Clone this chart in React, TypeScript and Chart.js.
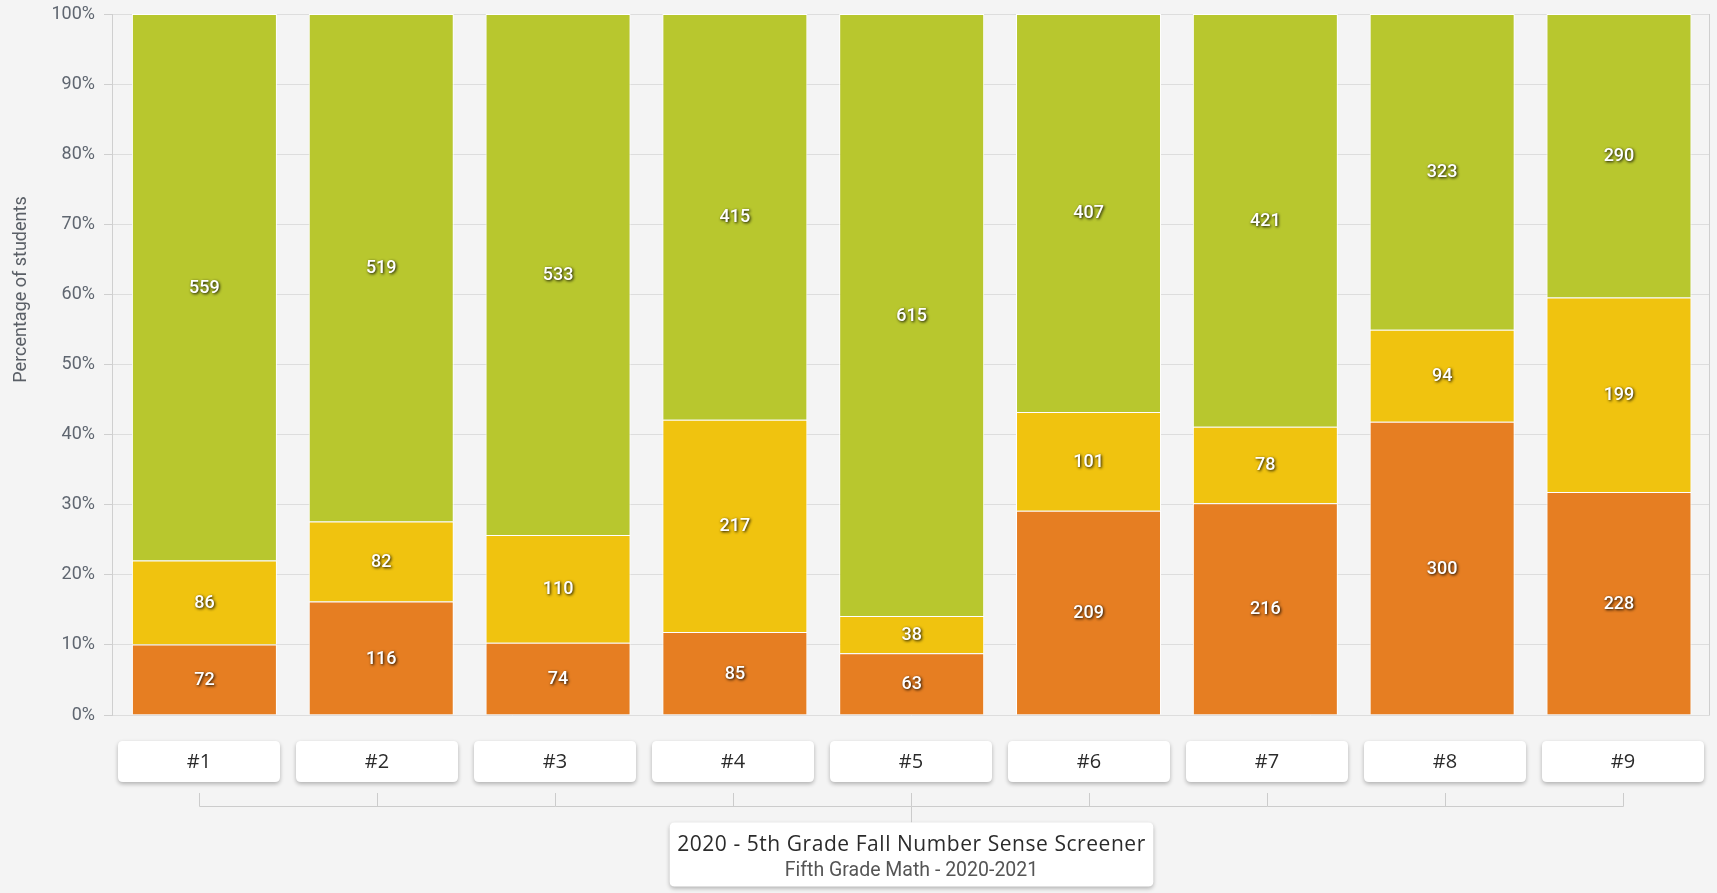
import React, { useEffect, useRef } from "react";
import { Chart, registerables } from "chart.js";

Chart.register(...registerables);

const categories = ["#1", "#2", "#3", "#4", "#5", "#6", "#7", "#8", "#9"];
const orangeCounts = [72, 116, 74, 85, 63, 209, 216, 300, 228];
const yellowCounts = [86, 82, 110, 217, 38, 101, 78, 94, 199];
const greenCounts = [559, 519, 533, 415, 615, 407, 421, 323, 290];
const seriesNames = ["Tier 3", "Tier 2", "Tier 1"];
const seriesColors = ["#E67E22", "#F0C30F", "#B8C72E"];
const yTickValues = [0, 10, 20, 30, 40, 50, 60, 70, 80, 90, 100];
const yAxisTitle = "Percentage of students";
const chartTitle = "2020 - 5th Grade Fall Number Sense Screener";
const chartSubtitle = "Fifth Grade Math - 2020-2021";

const W = 1717;
const H = 893;

const totals = categories.map((_, i) => orangeCounts[i] + yellowCounts[i] + greenCounts[i]);
const toPct = (arr: number[]) => arr.map((v, i) => (v / totals[i]) * 100);

function roundRect(ctx: CanvasRenderingContext2D, x: number, y: number, w: number, h: number, r: number) {
  ctx.beginPath();
  ctx.moveTo(x + r, y);
  ctx.lineTo(x + w - r, y);
  ctx.quadraticCurveTo(x + w, y, x + w, y + r);
  ctx.lineTo(x + w, y + h - r);
  ctx.quadraticCurveTo(x + w, y + h, x + w - r, y + h);
  ctx.lineTo(x + r, y + h);
  ctx.quadraticCurveTo(x, y + h, x, y + h - r);
  ctx.lineTo(x, y + r);
  ctx.quadraticCurveTo(x, y, x + r, y);
  ctx.closePath();
}

const shiftPlugin = {
  id: "shiftX",
  afterLayout(chart: any) {
    const xs = chart.scales.x;
    const a = chart.chartArea;
    xs.left = a.left + 4;
    xs.right = a.right - 2.6;
    xs.width = xs.right - xs.left;
    xs.configure();
  },
};

const framePlugin = {
  id: "frame",
  beforeDatasetsDraw(chart: any) {
    const ctx = chart.ctx;
    const a = chart.chartArea;
    ctx.save();
    ctx.strokeStyle = "#cfcfcf";
    ctx.lineWidth = 1;
    ctx.beginPath();
    ctx.moveTo(Math.round(a.right) - 0.5, a.top);
    ctx.lineTo(Math.round(a.right) - 0.5, a.bottom);
    ctx.stroke();
    ctx.restore();
  },
};

const labelPlugin = {
  id: "segLabels",
  afterDatasetsDraw(chart: any) {
    const ctx = chart.ctx;
    ctx.save();
    ctx.font = "500 18px Roboto";
    ctx.textAlign = "center";
    ctx.textBaseline = "middle";
    chart.data.datasets.forEach((ds: any, di: number) => {
      const meta = chart.getDatasetMeta(di);
      meta.data.forEach((el: any, i: number) => {
        const p = el.getProps(["x", "y", "base"], true);
        const cy = (p.y + p.base) / 2;
        ctx.shadowColor = "rgba(0,0,0,0.95)";
        ctx.shadowBlur = 3;
        ctx.shadowOffsetX = 1;
        ctx.shadowOffsetY = 1;
        ctx.fillStyle = "#ffffff";
        ctx.fillText(String(ds.counts[i]), p.x, cy + 1);
      });
    });
    ctx.restore();
  },
};

const decorPlugin = {
  id: "decor",
  afterDraw(chart: any) {
    const ctx = chart.ctx;
    const a = chart.chartArea;
    ctx.save();
    // y axis title
    ctx.save();
    ctx.translate(21, a.top + a.height * 0.393);
    ctx.rotate(-Math.PI / 2);
    ctx.font = "18px Roboto";
    ctx.fillStyle = "#5a5f66";
    ctx.textAlign = "center";
    ctx.textBaseline = "middle";
    ctx.fillText(yAxisTitle, 0, 0);
    ctx.restore();

    const left = a.left - 2;
    const right = a.right + 2;
    const step = (right - left) / categories.length;
    const centers = categories.map((_, i) => left + step * (i + 0.5));
    const boxW = 162;
    const boxH = 41;
    const boxTop = a.bottom + 26;

    // brackets
    ctx.strokeStyle = "#cccccc";
    ctx.lineWidth = 1;
    const tickTop = boxTop + 52;
    const lineY = boxTop + 65.5;
    ctx.beginPath();
    centers.forEach((c) => {
      const xx = Math.round(c) + 0.5;
      ctx.moveTo(xx, tickTop);
      ctx.lineTo(xx, lineY);
    });
    ctx.moveTo(Math.round(centers[0]) + 0.5, lineY);
    ctx.lineTo(Math.round(centers[centers.length - 1]) + 0.5, lineY);
    const mid = Math.round((a.left + a.right) / 2) + 0.5;
    ctx.moveTo(mid, lineY);
    ctx.lineTo(mid, lineY + 16);
    ctx.stroke();

    // category boxes
    centers.forEach((c, i) => {
      ctx.save();
      ctx.shadowColor = "rgba(0,0,0,0.28)";
      ctx.shadowBlur = 4;
      ctx.shadowOffsetY = 2;
      ctx.fillStyle = "#ffffff";
      roundRect(ctx, c - boxW / 2, boxTop, boxW, boxH, 5);
      ctx.fill();
      ctx.restore();
      ctx.font = "20px 'Open Sans'";
      ctx.fillStyle = "#2b2b2b";
      ctx.textAlign = "center";
      ctx.textBaseline = "middle";
      ctx.fillText(categories[i], c, boxTop + boxH / 2 + 1);
    });

    // title box
    const titleFont = "21px 'Open Sans'";
    const subFont = "19.5px Roboto";
    (ctx as any).letterSpacing = "0.55px";
    ctx.font = titleFont;
    const tw = ctx.measureText(chartTitle).width;
    (ctx as any).letterSpacing = "0px";
    ctx.font = subFont;
    const sw = ctx.measureText(chartSubtitle).width;
    const tBoxW = Math.max(tw, sw) + 15;
    const tBoxTop = lineY + 16;
    const tBoxH = 64;
    ctx.save();
    ctx.shadowColor = "rgba(0,0,0,0.28)";
    ctx.shadowBlur = 4;
    ctx.shadowOffsetY = 2;
    ctx.fillStyle = "#ffffff";
    roundRect(ctx, mid - tBoxW / 2, tBoxTop, tBoxW, tBoxH, 5);
    ctx.fill();
    ctx.restore();
    ctx.textAlign = "center";
    ctx.textBaseline = "alphabetic";
    (ctx as any).letterSpacing = "0.55px";
    ctx.font = titleFont;
    ctx.fillStyle = "#2b2b2b";
    ctx.fillText(chartTitle, mid, tBoxTop + 28);
    (ctx as any).letterSpacing = "0px";
    ctx.font = subFont;
    ctx.fillStyle = "#555555";
    ctx.fillText(chartSubtitle, mid, tBoxTop + 53);
    ctx.restore();
  },
};

export default function App() {
  const ref = useRef<HTMLCanvasElement | null>(null);
  useEffect(() => {
    if (!ref.current) return;
    const chart = new Chart(ref.current, {
      type: "bar",
      data: {
        labels: categories,
        datasets: [
          { label: seriesNames[0], data: toPct(orangeCounts), counts: orangeCounts, backgroundColor: seriesColors[0] } as any,
          { label: seriesNames[1], data: toPct(yellowCounts), counts: yellowCounts, backgroundColor: seriesColors[1] } as any,
          { label: seriesNames[2], data: toPct(greenCounts), counts: greenCounts, backgroundColor: seriesColors[2] } as any,
        ].map((d: any) => ({
          ...d,
          borderColor: "#ffffff",
          borderWidth: 1,
          categoryPercentage: 1,
          barPercentage: 0.82,
        })),
      },
      options: {
        animation: false,
        responsive: false,
        maintainAspectRatio: false,
        layout: { padding: { left: 0, top: 14, right: 7, bottom: 178 } },
        plugins: { legend: { display: false }, tooltip: { enabled: false } },
        scales: {
          x: { stacked: true, display: false },
          y: {
            stacked: true,
            min: 0,
            max: 100,
            afterFit: (s: any) => {
              s.width = 112;
              s.paddingTop = 0;
              s.paddingBottom = 0;
            },
            afterBuildTicks: (s: any) => {
              s.ticks = yTickValues.map((v) => ({ value: v }));
            },
            ticks: {
              padding: 9,
              color: "#5f6670",
              font: { family: "Roboto", size: 18 },
              callback: (v: any) => v + "%",
            },
            grid: { color: "#dddddd", tickLength: 8, tickColor: "#cfcfcf" },
            border: { color: "#cfcfcf" },
          },
        },
      },
      plugins: [shiftPlugin, framePlugin, labelPlugin, decorPlugin],
    });
    return () => chart.destroy();
  }, []);
  return (
    <div style={{ position: "fixed", left: 0, top: 0, width: W, height: H, background: "#f4f4f4" }}>
      <canvas ref={ref} width={W} height={H} style={{ display: "block", width: W, height: H }} />
    </div>
  );
}
